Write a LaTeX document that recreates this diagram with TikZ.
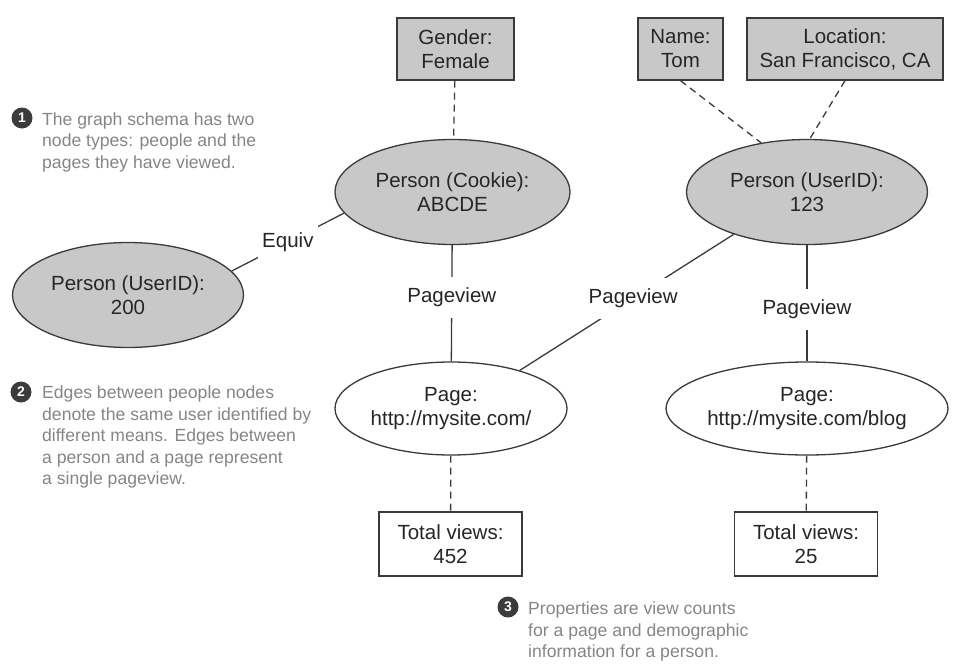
\documentclass[tikz,border=0pt]{standalone}
\usepackage{fontspec}
\setmainfont{Liberation Sans}
\usetikzlibrary{shapes.geometric}
\definecolor{fillgray}{HTML}{C8C8C8}
\definecolor{linegray}{HTML}{3A3A3A}
\definecolor{txtgray}{HTML}{262626}
\definecolor{notegray}{HTML}{858585}
\definecolor{bulletgray}{HTML}{3C3C3C}
\begin{document}
\begin{tikzpicture}[x=1pt,y=-1pt,
  every node/.style={inner sep=0pt},
  nodetext/.style={font=\fontsize{20.5}{24}\selectfont, text=txtgray, align=center},
  person/.style={ellipse, draw=linegray, line width=1.3pt, fill=fillgray, nodetext},
  pagenode/.style={ellipse, draw=linegray, line width=1.3pt, fill=white, nodetext},
  propbox/.style={rectangle, draw=linegray, line width=1.3pt, fill=fillgray, nodetext},
  countbox/.style={rectangle, draw=linegray, line width=1.3pt, fill=white, nodetext},
  edgeline/.style={draw=linegray, line width=1.3pt},
  dashedge/.style={draw=linegray, line width=1.3pt, dash pattern=on 7pt off 5pt},
  edgelabel/.style={fill=white, inner xsep=4pt, inner ysep=11pt, nodetext},
  note/.style={font=\fontsize{17.6}{21.5}\selectfont, text=notegray, align=left, anchor=north west},
  bullet/.style={circle, fill=bulletgray, minimum size=21pt, text=white, font=\fontsize{14}{14}\selectfont\bfseries}
]
\path[use as bounding box] (0,0) rectangle (953,670);

% property boxes
\node[propbox, minimum width=117pt, minimum height=62pt] (gender) at (455.5,49) {Gender:\\Female};
\node[propbox, minimum width=85pt, minimum height=62pt] (name) at (680.5,49) {Name:\\Tom};
\node[propbox, minimum width=196pt, minimum height=62pt] (loc) at (845,49) {Location:\\San Francisco, CA};

% person nodes
\node[person, minimum width=235pt, minimum height=105pt] (cookie) at (452.5,192) {Person (Cookie):\\ABCDE};
\node[person, minimum width=241pt, minimum height=105pt] (p123) at (807,192) {Person (UserID):\\123};
\node[person, minimum width=231pt, minimum height=105pt] (p200) at (128,295) {Person (UserID):\\200};

% page nodes
\node[pagenode, minimum width=232pt, minimum height=93pt] (page1) at (451,408.5) {Page:\\http://mysite.com/};
\node[pagenode, minimum width=236pt, minimum height=93pt] (blog) at (807,408.5) {Page:\\http://mysite.com/blog};

% count boxes
\node[countbox, minimum width=143pt, minimum height=64pt] (tv1) at (450.5,544) {Total views:\\452};
\node[countbox, minimum width=143pt, minimum height=64pt] (tv2) at (806,544) {Total views:\\25};

% dashed property edges
\draw[dashedge] (gender) -- (cookie);
\draw[dashedge] (name.south) -- (p123.133);
\draw[dashedge] (loc.south) -- (p123.87);
\draw[dashedge] (page1) -- (tv1);
\draw[dashedge] (blog) -- (tv2);

% solid edges
\draw[edgeline] (p200.13.5) -- node[edgelabel] {Equiv} (cookie.191);
\draw[edgeline] (cookie) -- node[edgelabel, pos=0.45] {Pageview} (page1);
\draw[edgeline] (page1.29.4) -- node[edgelabel, pos=0.53] {Pageview} (p123.210.8);
\draw[edgeline] (p123) -- node[edgelabel, pos=0.55] {Pageview} (blog);

% annotations
\node[bullet] (b1) at (22,118) {1};
\node[note] (n1) at (42,112.5) {The graph schema has two\\node types: people and the\\pages they have viewed.};
\node[bullet] (b2) at (21,392) {2};
\node[note] (n2) at (42,385.6) {Edges between people nodes\\denote the same user identified by\\different means. Edges between\\a person and a page represent\\a single pageview.};
\node[bullet] (b3) at (508,607) {3};
\node[note] (n3) at (528,601.6) {Properties are view counts\\for a page and demographic\\information for a person.};
\end{tikzpicture}
\end{document}
